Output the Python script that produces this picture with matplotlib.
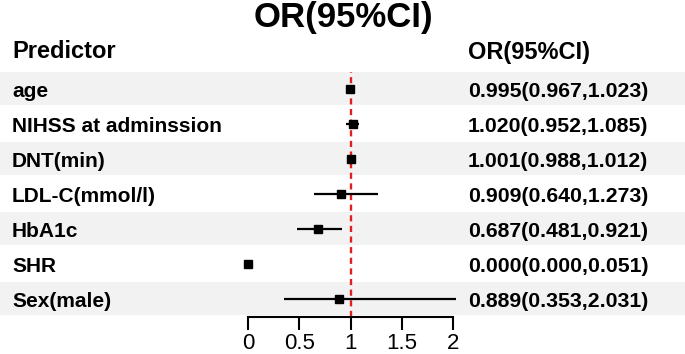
import matplotlib
matplotlib.use("Agg")
import matplotlib.pyplot as plt
import matplotlib.transforms as mtransforms

plt.rcParams['font.family'] = ['Liberation Sans', 'DejaVu Sans']

predictors = ["age", "NIHSS at adminssion", "DNT(min)", "LDL-C(mmol/l)", "HbA1c", "SHR", "Sex(male)"]
odds_ratio = [0.995, 1.020, 1.001, 0.909, 0.687, 0.000, 0.889]
ci_low = [0.967, 0.952, 0.988, 0.640, 0.481, 0.000, 0.353]
ci_high = [1.023, 1.085, 1.012, 1.273, 0.921, 0.051, 2.031]
or_text = ["0.995(0.967,1.023)", "1.020(0.952,1.085)", "1.001(0.988,1.012)",
           "0.909(0.640,1.273)", "0.687(0.481,0.921)", "0.000(0.000,0.051)",
           "0.889(0.353,2.031)"]
x_ticks = [0, 0.5, 1, 1.5, 2]
x_tick_labels = ["0", "0.5", "1", "1.5", "2"]

W, H = 685, 354
fig = plt.figure(figsize=(W / 100, H / 100), dpi=100)

n = len(predictors)
y_bot_px, y_top_px = 317, 72
row0_px, row_step = 89, 35
ylim_bottom = (n - 1) + (y_bot_px - (row0_px + (n - 1) * row_step)) / row_step
ylim_top = (y_top_px - row0_px) / row_step

ax_bottom = 1 - y_bot_px / H
ax_height = (y_bot_px - y_top_px) / H

# background bands
bg = fig.add_axes([0, ax_bottom, 1, ax_height], zorder=0)
bg.set_xlim(0, 1)
bg.set_ylim(ylim_bottom, ylim_top)
bg.axis("off")
for i in range(n):
    if i % 2 == 0:
        bg.axhspan(i - 0.49, i + 0.46, color="#f2f2f2", lw=0)

x0_px, x2_px = 248, 453
ax = fig.add_axes([x0_px / W, ax_bottom, (x2_px - x0_px) / W, ax_height], zorder=2)
ax.patch.set_alpha(0)
ax.set_xlim(0, 2)
ax.set_ylim(ylim_bottom, ylim_top)

ys = list(range(n))
ax.axvline(1, color="#e02020", lw=1.7, ls=(0, (2.6, 1.9)), zorder=1)
ax.hlines(ys, ci_low, ci_high, color="black", lw=1.6, clip_on=False, zorder=2)
ax.plot(odds_ratio, ys, ls="none", marker="s", ms=6.3, color="black", clip_on=False, zorder=3)

for s in ["top", "right", "left"]:
    ax.spines[s].set_visible(False)
ax.spines["bottom"].set_linewidth(1.5)
ax.set_yticks([])
ax.set_xticks(x_ticks)
ax.set_xticklabels(x_tick_labels, fontsize=16)
ax.tick_params(axis="x", direction="out", length=9.5, width=1.5, pad=2)

shift = mtransforms.ScaledTranslation(0, -2.5 / 100, fig.dpi_scale_trans)
trans = mtransforms.blended_transform_factory(fig.transFigure, ax.transData) + shift
for i in range(n):
    fig.text(12 / W, i, predictors[i], transform=trans, fontsize=15, fontweight="bold",
             va="center", ha="left")
    fig.text(468 / W, i, or_text[i], transform=trans, fontsize=15.3, fontweight="bold",
             va="center", ha="left")

fig.text(12 / W, 1 - 52 / H, "Predictor", fontsize=17, fontweight="bold", va="center", ha="left")
fig.text(468 / W, 1 - 52 / H, "OR(95%CI)", fontsize=17, fontweight="bold", va="center", ha="left")
fig.text(343 / W, 1 - 18 / H, "OR(95%CI)", fontsize=25, fontweight="bold", va="center", ha="center")

fig.savefig("out.png", dpi=100)
